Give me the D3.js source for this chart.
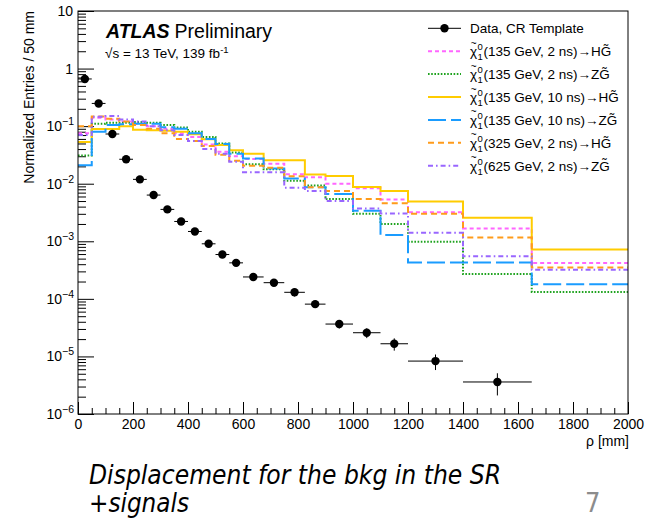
<!DOCTYPE html>
<html>
<head>
<meta charset="utf-8">
<script src="https://cdn.jsdelivr.net/npm/d3@7"></script>
<style>
  html, body { margin: 0; padding: 0; background: #fff; }
  svg { display: block; }
  text { font-family: "Liberation Sans", Arial, Helvetica, sans-serif; }
</style>
</head>
<body>
<svg id="chart" width="661" height="519"></svg>
<script>
// Bin edges of the displacement histograms (mm)
const binEdges = [0, 50, 100, 150, 200, 250, 300, 350, 400, 450, 500, 550, 600,
                  675, 750, 825, 900, 1000, 1100, 1200, 1400, 1650, 2000];

// Data, CR template: normalized entries per bin and their uncertainties
const dataValues = [0.66, 0.248, 0.073, 0.0266, 0.0119, 0.00635, 0.00358, 0.00221,
                    0.00148, 0.000904, 0.000589, 0.000422, 0.00024, 0.000191, 0.00013,
                    8.1e-5, 3.65e-5, 2.58e-5, 1.66e-5, 8.3e-6, 3.6e-6];
const dataErrors = [0.005, 0.003, 0.0015, 0.0007, 0.0004, 0.0003, 0.0002, 0.00015,
                    0.0001, 0.00007, 0.00006, 0.00005, 0.00003, 0.000025, 0.00002,
                    1e-5, 6e-6, 5e-6, 4e-6, 2.5e-6, 1.5e-6];

// Signal templates (one value per bin)
const sig135_2ns_H  = [0.075, 0.14, 0.13, 0.12, 0.11, 0.1, 0.09, 0.075, 0.065, 0.048, 0.036, 0.03,
                       0.027, 0.0222, 0.0146, 0.013, 0.01, 0.0083, 0.0053, 0.0032, 0.00167, 0.00042];
const sig135_2ns_Z  = [0.031, 0.11, 0.115, 0.115, 0.118, 0.115, 0.105, 0.095, 0.08, 0.065, 0.05, 0.035,
                       0.0217, 0.0178, 0.0113, 0.0093, 0.0054, 0.003, 0.002, 0.00098, 0.00027, 0.000132];
const sig135_10ns_H = [0.053, 0.089, 0.089, 0.1, 0.087, 0.085, 0.083, 0.08, 0.072, 0.059, 0.047, 0.038,
                       0.033, 0.0256, 0.0256, 0.0145, 0.0136, 0.0088, 0.0075, 0.0049, 0.00257, 0.00072];
const sig135_10ns_Z = [0.021, 0.08, 0.105, 0.108, 0.11, 0.11, 0.096, 0.09, 0.075, 0.06, 0.049, 0.033,
                       0.0274, 0.0183, 0.0123, 0.0087, 0.0066, 0.0034, 0.00128, 0.00043, 0.00043, 0.00018];
const sig325_2ns_H  = [0.1, 0.147, 0.135, 0.12, 0.105, 0.09, 0.075, 0.06, 0.055, 0.045, 0.032, 0.025,
                       0.0205, 0.019, 0.0135, 0.0087, 0.0075, 0.0054, 0.0046, 0.003, 0.00116, 0.00035];
const sig625_2ns_Z  = [0.07, 0.145, 0.15, 0.13, 0.12, 0.1, 0.085, 0.07, 0.055, 0.04, 0.033, 0.024,
                       0.0158, 0.0158, 0.0085, 0.0075, 0.005, 0.0037, 0.00305, 0.00141, 0.00055, 0.00032];

// Legend texts of the signal samples: [mass, lifetime, boson]
const signalLabels = [
  ["135 GeV", "2 ns", "H"],
  ["135 GeV", "2 ns", "Z"],
  ["135 GeV", "10 ns", "H"],
  ["135 GeV", "10 ns", "Z"],
  ["325 GeV", "2 ns", "H"],
  ["625 GeV", "2 ns", "Z"]
];

// Axis tick labels
const xTickValues = [0, 200, 400, 600, 800, 1000, 1200, 1400, 1600, 1800, 2000];
const yTickExponents = [-6, -5, -4, -3, -2, -1, 0, 1];

const frame = { left: 78, right: 628, top: 11, bottom: 414 };

const svg = d3.select("#chart");

const x = d3.scaleLinear().domain([0, 2000]).range([frame.left, frame.right]);
const y = d3.scaleLog().domain([1e-6, 10]).range([frame.bottom, frame.top]);

const signals = [
  { values: sig135_2ns_H,  color: "#ff66ff", dash: "4,3",        width: 2 },
  { values: sig135_2ns_Z,  color: "#1fa31f", dash: "1.6,1.6",    width: 2 },
  { values: sig135_10ns_H, color: "#ffcc00", dash: null,         width: 2 },
  { values: sig135_10ns_Z, color: "#1a9cff", dash: "18,5",       width: 2 },
  { values: sig325_2ns_H,  color: "#ff9b1a", dash: "6,4",        width: 2 },
  { values: sig625_2ns_Z,  color: "#9966ff", dash: "5,3,1.6,3",  width: 2 }
];

// ---- axes ----
const minorY = [];
for (let e = -6; e < 1; e++) {
  for (let m = 2; m <= 9; m++) minorY.push(m * Math.pow(10, e));
}
const majorY = yTickExponents.map(e => Math.pow(10, e));

svg.append("g")
  .attr("transform", `translate(${frame.left},0)`)
  .call(d3.axisLeft(y).tickValues(minorY).tickSize(-8).tickFormat(""))
  .call(g => g.select(".domain").remove())
  .call(g => g.selectAll("line").attr("stroke", "#000"));

svg.append("g")
  .attr("transform", `translate(${frame.left},0)`)
  .call(d3.axisLeft(y).tickValues(majorY).tickSize(-16).tickFormat(""))
  .call(g => g.select(".domain").remove())
  .call(g => g.selectAll("line").attr("stroke", "#000"));

// y tick labels: 10^n in ROOT notation
const yLab = svg.append("g");
yTickExponents.forEach(e => {
  const yy = y(Math.pow(10, e));
  if (e === 0 || e === 1) {
    yLab.append("text")
      .attr("x", 73).attr("y", yy + 5)
      .attr("text-anchor", "end")
      .attr("font-size", 14)
      .text(e === 0 ? "1" : "10");
  } else {
    const t = yLab.append("text")
      .attr("x", 74).attr("y", yy + 5)
      .attr("text-anchor", "end")
      .attr("font-size", 14);
    t.append("tspan").text("10");
    t.append("tspan").attr("dy", -6).attr("font-size", 10.5).text("\u2212" + Math.abs(e));
  }
});

const minorX = d3.range(0, 2001, 50).filter(v => v % 200 !== 0);
svg.append("g")
  .attr("transform", `translate(0,${frame.bottom})`)
  .call(d3.axisBottom(x).tickValues(minorX).tickSize(-6).tickFormat(""))
  .call(g => g.select(".domain").remove())
  .call(g => g.selectAll("line").attr("stroke", "#000"));

svg.append("g")
  .attr("transform", `translate(0,${frame.bottom})`)
  .call(d3.axisBottom(x).tickValues(xTickValues).tickSize(-12).tickPadding(5).tickFormat(d3.format("d")))
  .call(g => g.select(".domain").remove())
  .call(g => g.selectAll("line").attr("stroke", "#000"))
  .call(g => g.selectAll("text")
      .attr("font-family", '"Liberation Sans", Arial, sans-serif')
      .attr("font-size", 14).attr("fill", "#000"));

// axis titles
svg.append("text")
  .attr("transform", `translate(34,${frame.top}) rotate(-90)`)
  .attr("text-anchor", "end")
  .attr("font-size", 14)
  .text("Normalized Entries / 50 mm");

svg.append("text")
  .attr("x", 629).attr("y", 446)
  .attr("text-anchor", "end")
  .attr("font-size", 14)
  .text("\u03c1 [mm]");

// ---- signal histograms ----
const stepLine = d3.line()
  .x(d => x(d[0]))
  .y(d => y(d[1]))
  .curve(d3.curveStepAfter);

const plot = svg.append("g");
signals.forEach(s => {
  const pts = s.values.map((v, i) => [binEdges[i], v]);
  pts.push([binEdges[binEdges.length - 1], s.values[s.values.length - 1]]);
  plot.append("path")
    .attr("d", stepLine(pts))
    .attr("fill", "none")
    .attr("stroke", s.color)
    .attr("stroke-width", s.width)
    .attr("stroke-dasharray", s.dash);
});

// ---- data points with error bars ----
const dataG = svg.append("g");
dataValues.forEach((v, i) => {
  const lo = binEdges[i], hi = binEdges[i + 1], cx = (lo + hi) / 2;
  dataG.append("line")
    .attr("x1", x(lo)).attr("x2", x(hi))
    .attr("y1", y(v)).attr("y2", y(v))
    .attr("stroke", "#000").attr("stroke-width", 1);
  dataG.append("line")
    .attr("x1", x(cx)).attr("x2", x(cx))
    .attr("y1", y(v + dataErrors[i])).attr("y2", y(Math.max(v - dataErrors[i], 1e-7)))
    .attr("stroke", "#000").attr("stroke-width", 1);
  dataG.append("circle")
    .attr("cx", x(cx)).attr("cy", y(v)).attr("r", 4.2)
    .attr("fill", "#000");
});

// frame
svg.append("rect")
  .attr("x", frame.left).attr("y", frame.top)
  .attr("width", frame.right - frame.left).attr("height", frame.bottom - frame.top)
  .attr("fill", "none").attr("stroke", "#000").attr("stroke-width", 1);

// ---- ATLAS label ----
const atlas = svg.append("text").attr("x", 106).attr("y", 38).attr("font-size", 19.5);
atlas.append("tspan").attr("font-weight", "bold").attr("font-style", "italic").text("ATLAS");
atlas.append("tspan").attr("dx", 5).text("Preliminary");

const lumi = svg.append("text").attr("x", 105).attr("y", 58).attr("font-size", 13.5);
lumi.append("tspan").text("\u221as = 13 TeV, 139 fb");
lumi.append("tspan").attr("dy", -5).attr("font-size", 9.5).text("-1");

// ---- legend ----
const leg = svg.append("g");
const rowY = i => 28.3 + i * 22.9;
const lx1 = 428, lx2 = 461, tx = 470;

// measure glyph widths used to place the tilde and the stacked indices
function textWidth(str, size) {
  const t = svg.append("text").attr("font-size", size).text(str);
  const w = t.node().getComputedTextLength();
  t.remove();
  return w;
}
const wChi = textWidth("\u03c7", 13.5);
const wTilde = textWidth("~", 10);
const wIdx = textWidth("0", 9.5);

leg.append("line").attr("x1", lx1).attr("x2", lx2).attr("y1", rowY(0)).attr("y2", rowY(0))
  .attr("stroke", "#000").attr("stroke-width", 1);
leg.append("circle").attr("cx", (lx1 + lx2) / 2).attr("cy", rowY(0)).attr("r", 4.2).attr("fill", "#000");
leg.append("text").attr("x", tx).attr("y", rowY(0) + 5).attr("font-size", 13.5).text("Data, CR Template");

signals.forEach((s, k) => {
  const i = k + 1, yy = rowY(i);
  leg.append("line").attr("x1", lx1).attr("x2", lx2).attr("y1", yy).attr("y2", yy)
    .attr("stroke", s.color).attr("stroke-width", s.width).attr("stroke-dasharray", s.dash);

  const lab = signalLabels[k];
  // neutralino with tilde, stacked superscript 0 / subscript 1, then the decay
  const t = leg.append("text").attr("x", tx).attr("y", yy + 5).attr("font-size", 13.5);
  t.append("tspan").text("\u03c7");
  t.append("tspan").attr("dx", -(wChi / 2 + wTilde / 2)).attr("dy", -9.5)
    .attr("font-size", 10).text("~");
  t.append("tspan").attr("dx", wChi / 2 - wTilde / 2 + 0.5).attr("dy", 3.5)
    .attr("font-size", 9.5).text("0");
  t.append("tspan").attr("dx", -wIdx).attr("dy", 10).attr("font-size", 9.5).text("1");
  t.append("tspan").attr("dy", -4).attr("dx", 0.5).text(`(${lab[0]}, ${lab[1]})\u2192${lab[2]}G\u0303`);
});

// ---- slide caption ----
const capFont = '"DejaVu Sans Condensed", "DejaVu Sans", sans-serif';
svg.append("text").attr("x", 89).attr("y", 484).attr("font-size", 26)
  .attr("textLength", 412).attr("lengthAdjust", "spacingAndGlyphs")
  .style("font-family", capFont).style("font-style", "italic")
  .text("Displacement for the bkg in the SR");
svg.append("text").attr("x", 89).attr("y", 512).attr("font-size", 26)
  .attr("textLength", 100).attr("lengthAdjust", "spacingAndGlyphs")
  .style("font-family", capFont).style("font-style", "italic")
  .text("+signals");
svg.append("text").attr("x", 585).attr("y", 512).attr("font-size", 27)
  .style("font-family", capFont)
  .attr("fill", "#8c8c8c").text("7");
</script>
</body>
</html>
